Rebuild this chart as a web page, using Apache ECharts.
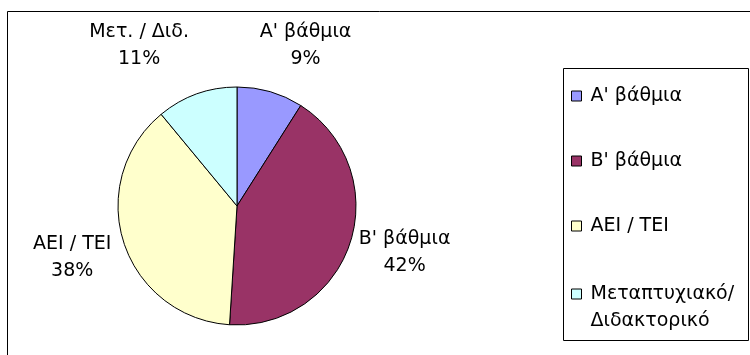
<!DOCTYPE html>
<html>
<head>
<meta charset="utf-8">
<script src="https://cdn.jsdelivr.net/npm/echarts@6/dist/echarts.min.js"></script>
<style>html,body{margin:0;padding:0;background:#fff}#c{width:750px;height:355px}</style>
</head>
<body>
<div id="c"></div>
<script>
const categories = ["Α' βάθμια", "Β' βάθμια", "ΑΕΙ / ΤΕΙ", "Μεταπτυχιακό/\nΔιδακτορικό"];
const labelNames = ["Α' βάθμια", "Β' βάθμια", "ΑΕΙ / ΤΕΙ", "Μετ. / Διδ."];
const values = [9, 42, 38, 11];
const colors = ['#9999FF', '#993366', '#FFFFCC', '#CCFFFF'];
const labelLen = [48, 32, 49, 52];
const labelLen2 = [17, 19, 0, 35];

const FONT = '"DejaVu Sans", sans-serif';
const chart = echarts.init(document.getElementById('c'), null, {renderer: 'canvas'});
chart.setOption({
  animation: false,
  backgroundColor: '#fff',
  color: colors,
  graphic: [
    {type: 'rect', shape: {x: 7.5, y: 11.5, width: 800, height: 400}, style: {fill: 'none', stroke: '#000', lineWidth: 1}, silent: true, z: -10},
    {type: 'rect', shape: {x: 563.5, y: 68.5, width: 185, height: 272}, style: {fill: '#fff', stroke: '#000', lineWidth: 1}, silent: true, z: -5}
  ],
  legend: [
    {
      data: categories.slice(0, 3),
      orient: 'vertical', left: 571, top: 86, padding: 0,
      itemWidth: 10, itemHeight: 10, itemGap: 45, icon: 'rect',
      itemStyle: {borderColor: '#000', borderWidth: 1},
      textStyle: {fontFamily: FONT, fontSize: 19, lineHeight: 20, color: '#000', padding: [0, 0, 0, 4]},
      selectedMode: false
    },
    {
      data: categories.slice(3),
      formatter: name => ' \n' + name,
      orient: 'vertical', left: 571, top: 253.5, padding: 0,
      itemWidth: 10, itemHeight: 10, icon: 'rect',
      itemStyle: {borderColor: '#000', borderWidth: 1},
      textStyle: {fontFamily: FONT, fontSize: 19, lineHeight: 27, color: '#000', padding: [0, 0, 0, 4]},
      selectedMode: false
    }
  ],
  series: [{
    type: 'pie',
    center: [237, 206],
    radius: 119,
    startAngle: 90,
    clockwise: true,
    avoidLabelOverlap: false,
    itemStyle: {borderColor: '#000', borderWidth: 1},
    emphasis: {disabled: true},
    label: {
      show: true, position: 'outside',
      fontFamily: FONT, fontSize: 19, lineHeight: 27, color: '#000',
      formatter: p => labelNames[p.dataIndex] + '\n' + p.percent + '%'
    },
    labelLine: {show: false},
    labelLayout: function (p) {
      const r = p.labelRect;
      const x = p.align === 'right' ? r.x + r.width : r.x;
      return {x: x, y: r.y + r.height / 2, align: 'center', verticalAlign: 'middle'};
    },
    data: categories.map((n, i) => ({
      name: n, value: values[i],
      labelLine: {show: false, length: labelLen[i], length2: labelLen2[i]}
    }))
  }]
});
</script>
</body>
</html>
